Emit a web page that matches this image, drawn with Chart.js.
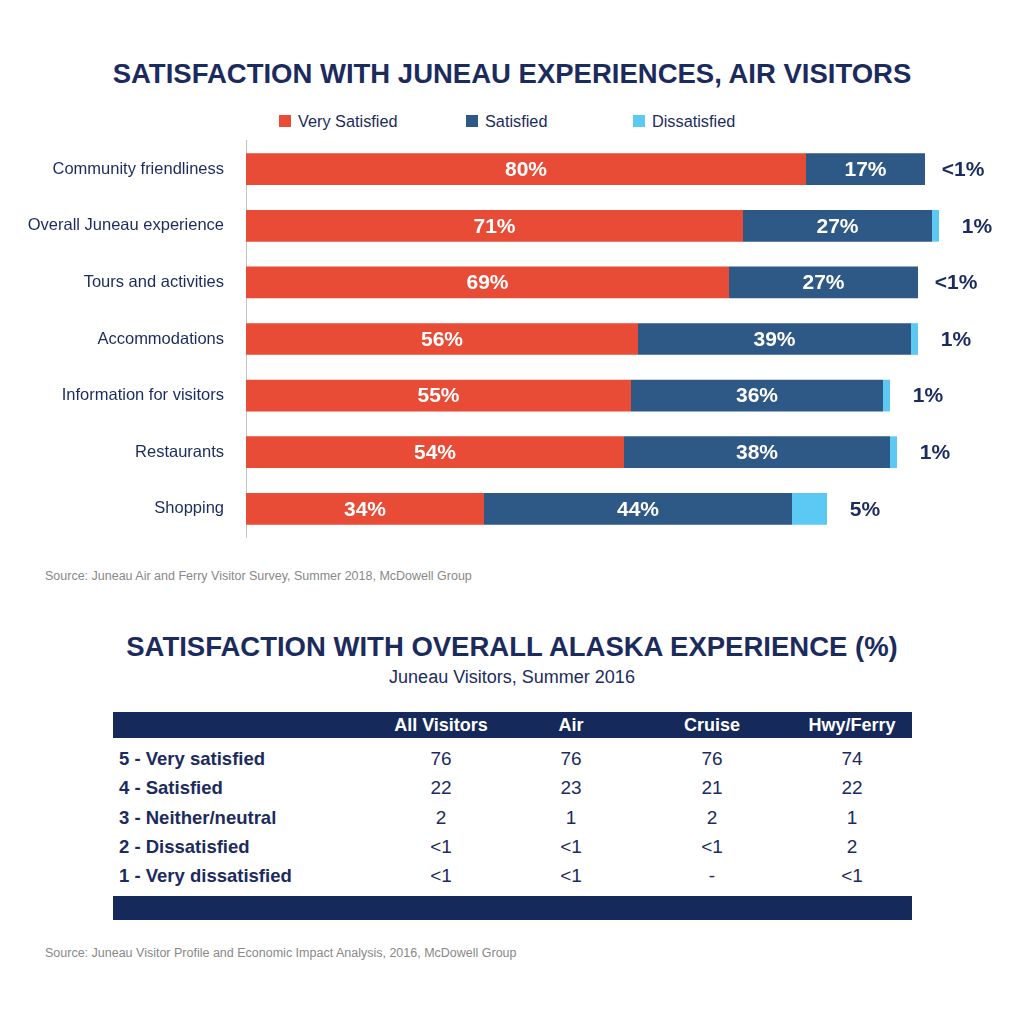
<!DOCTYPE html>
<html>
<head>
<meta charset="utf-8">
<script src="https://cdn.jsdelivr.net/npm/chart.js@4/dist/chart.umd.min.js"></script>
<style>
  body { margin: 0; background: #fff; font-family: "Liberation Sans", Arial, sans-serif; color: #1c2b5e; }
  #page { position: relative; width: 1024px; height: 1024px; overflow: hidden; }
  .title { position: absolute; left: 0; width: 1024px; text-align: center; font-weight: bold; font-size: 27.5px; line-height: 32px; color: #1c2b5e; }
  .source { position: absolute; left: 45px; font-size: 12.5px; color: #888; }
  #legend { position: absolute; left: 0; top: 112px; width: 1024px; height: 18px; font-size: 16.3px; line-height: 18px; }
  #legend .item { position: absolute; top: 0; display: flex; align-items: center; white-space: nowrap; }
  #legend .box { width: 12px; height: 12px; margin-right: 7px; }
  #chartWrap { position: absolute; left: 0; top: 109px; width: 1024px; height: 460px; }
  #table { position: absolute; left: 113px; top: 712px; width: 799px; }
  .bar { background: #15295b; color: #fff; font-weight: bold; }
  .row { position: relative; height: 29.3px; }
  .cell { position: absolute; top: 0; line-height: 29px; white-space: nowrap; }
  .lab { left: 6px; font-weight: bold; font-size: 18.5px; }
  .val { transform: translateX(-50%); font-size: 19px; }
</style>
</head>
<body>
<div id="page">
  <div class="title" style="top:58px">SATISFACTION WITH JUNEAU EXPERIENCES, AIR VISITORS</div>
  <div id="legend"></div>
  <div id="chartWrap"><canvas id="satChart" width="1024" height="460"></canvas></div>
  <div class="source" style="top:569px">Source: Juneau Air and Ferry Visitor Survey, Summer 2018, McDowell Group</div>

  <div class="title" style="top:631px">SATISFACTION WITH OVERALL ALASKA EXPERIENCE (%)</div>
  <div style="position:absolute;left:0;width:1024px;top:667px;text-align:center;font-size:18px;">Juneau Visitors, Summer 2016</div>
  <div id="table"></div>
  <div class="source" style="top:946px">Source: Juneau Visitor Profile and Economic Impact Analysis, 2016, McDowell Group</div>
</div>

<script>
// bar chart data (percent)
const categories = ['Community friendliness', 'Overall Juneau experience', 'Tours and activities',
    'Accommodations', 'Information for visitors', 'Restaurants', 'Shopping'];
const verySatisfied = [80, 71, 69, 56, 55, 54, 34];
const satisfied = [17, 27, 27, 39, 36, 38, 44];
const dissatisfied = [0, 1, 0, 1, 1, 1, 5];
const dissatisfiedLabels = ['<1%', '1%', '<1%', '1%', '1%', '1%', '5%'];

// table data
const tableColumns = ['All Visitors', 'Air', 'Cruise', 'Hwy/Ferry'];
const tableRows = ['5 - Very satisfied', '4 - Satisfied', '3 - Neither/neutral', '2 - Dissatisfied', '1 - Very dissatisfied'];
const allVisitors = ['76', '22', '2', '<1', '<1'];
const airVisitors = ['76', '23', '1', '<1', '<1'];
const cruiseVisitors = ['76', '21', '2', '<1', '-'];
const hwyFerryVisitors = ['74', '22', '1', '2', '<1'];

const navy = '#1c2b5e';
const colors = ['#e84b36', '#2e5886', '#5cc8f4'];

const barLabels = {
    id: 'barLabels',
    afterDatasetsDraw(chart) {
        const ctx = chart.ctx;
        ctx.save();
        ctx.textBaseline = 'middle';
        ctx.textAlign = 'center';
        ctx.font = 'bold 21px "Liberation Sans", Arial, sans-serif';
        chart.data.datasets.forEach(function (ds, i) {
            const meta = chart.getDatasetMeta(i);
            meta.data.forEach(function (bar, j) {
                if (i < 2) {
                    ctx.fillStyle = '#fff';
                    ctx.fillText(ds.data[j] + '%', (bar.x + bar.base) / 2, bar.y + 1);
                } else {
                    ctx.fillStyle = navy;
                    ctx.fillText(dissatisfiedLabels[j], bar.x + 38, bar.y + 1);
                }
            });
        });
        ctx.restore();
    }
};

const chart = new Chart(document.getElementById('satChart').getContext('2d'), {
    type: 'bar',
    data: {
        labels: categories,
        datasets: [
            { label: 'Very Satisfied', data: verySatisfied, backgroundColor: colors[0] },
            { label: 'Satisfied', data: satisfied, backgroundColor: colors[1] },
            { label: 'Dissatisfied', data: dissatisfied, backgroundColor: colors[2] }
        ]
    },
    options: {
        indexAxis: 'y',
        responsive: false,
        animation: false,
        layout: { padding: { top: 10, bottom: 12, right: 78, left: 0 } },
        datasets: { bar: { categoryPercentage: 1, barPercentage: 0.56 } },
        scales: {
            x: { stacked: true, min: 0, max: 100, display: false },
            y: {
                stacked: true,
                grid: { display: false, drawTicks: false },
                border: { display: true, color: '#c4c4c4', width: 1 },
                ticks: { color: navy, padding: 22, font: { size: 16.5, family: '"Liberation Sans", Arial, sans-serif' } },
                afterFit: function (scale) { scale.width = 246; }
            }
        },
        plugins: {
            legend: { display: false },
            tooltip: { enabled: false }
        }
    },
    plugins: [barLabels]
});

// legend from the chart's datasets
const legendEl = document.getElementById('legend');
const legendLeft = [279, 466, 633];
chart.data.datasets.forEach(function (ds, i) {
    const item = document.createElement('div');
    item.className = 'item';
    item.style.left = legendLeft[i] + 'px';
    item.innerHTML = '<span class="box" style="background:' + ds.backgroundColor + '"></span>' + ds.label;
    legendEl.appendChild(item);
});

// table
const tableEl = document.getElementById('table');
const colCenters = [328, 458, 599, 739];
let html = '<div class="bar row" style="height:26px">';
tableColumns.forEach(function (c, k) {
    html += '<div class="cell val" style="left:' + colCenters[k] + 'px;line-height:26px;font-size:18px;font-weight:bold">' + c + '</div>';
});
html += '</div><div style="height:6px"></div>';
const cols = [allVisitors, airVisitors, cruiseVisitors, hwyFerryVisitors];
tableRows.forEach(function (r, i) {
    html += '<div class="row"><div class="cell lab">' + r + '</div>';
    cols.forEach(function (col, k) {
        html += '<div class="cell val" style="left:' + colCenters[k] + 'px">' + col[i].replace('<', '&lt;') + '</div>';
    });
    html += '</div>';
});
html += '<div style="height:6px"></div><div class="bar" style="height:24px"></div>';
tableEl.innerHTML = html;
</script>
</body>
</html>
